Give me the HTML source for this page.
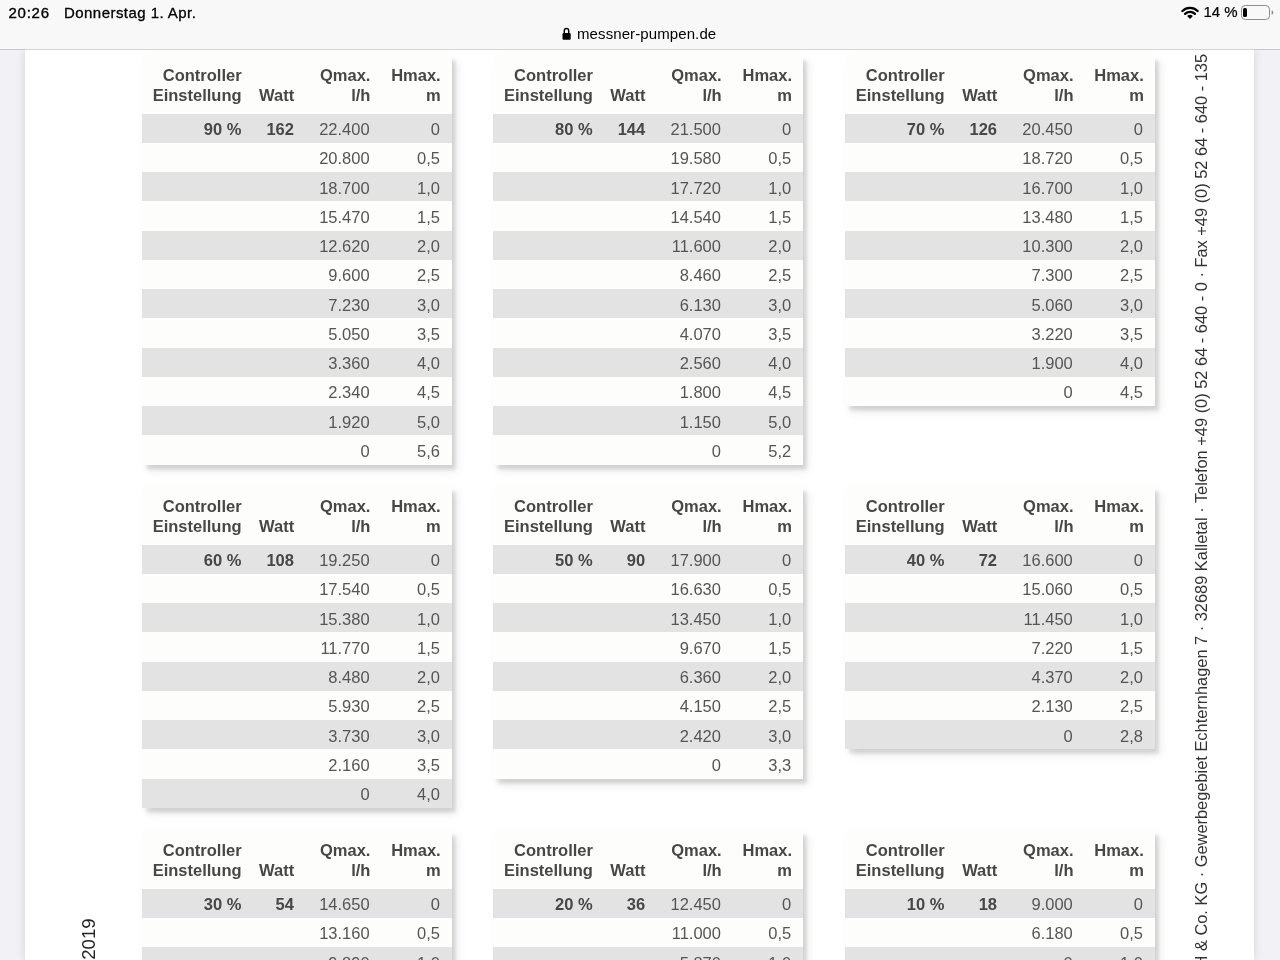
<!DOCTYPE html><html><head><meta charset="utf-8"><title>messner-pumpen.de</title><style>
*{margin:0;padding:0;box-sizing:border-box}
html,body{width:1280px;height:960px;overflow:hidden;background:#f1f1f6;font-family:"Liberation Sans",Arial,sans-serif}
#page{position:absolute;left:25px;top:49px;width:1228.5px;height:911px;background:#fff;box-shadow:0 0 9px rgba(0,0,0,.13)}
#line{position:absolute;left:0;top:49px;width:1280px;height:1px;background:rgba(0,0,0,.17)}
#bar{position:absolute;left:0;top:0;width:1280px;height:49px;background:#f8f8f8}
.card{position:absolute;width:310px;background:#fdfdfc;box-shadow:3.5px 4.5px 3px rgba(0,0,0,.1),4.5px 5.5px 9px rgba(0,0,0,.1)}
.h{position:absolute;top:11.1px;text-align:right;font-weight:bold;font-size:16.5px;line-height:19.75px;color:#474747;white-space:nowrap}
.r{position:absolute;left:0;width:310px;height:29.24px}
.g{background:#e3e3e3}
.r span,.r b{position:absolute;top:1.5px;font-size:16.5px;line-height:29.24px;white-space:nowrap}
.r span{color:#555;margin-right:0.75px}
.r b{color:#474747;margin-right:0.3px}
.rot{position:absolute;white-space:nowrap;transform-origin:0 0;transform:rotate(-90deg)}
</style></head><body><div id="page"></div><div id="line"></div><div id="bar"><div style="position:absolute;left:8.5px;top:3.5px;font-size:15px;line-height:18px;color:#000;letter-spacing:0.75px;-webkit-text-stroke:0.35px #000">20:26</div><div style="position:absolute;left:64px;top:3.5px;font-size:15px;line-height:18px;color:#000;letter-spacing:0.45px;-webkit-text-stroke:0.3px #000">Donnerstag 1. Apr.</div><svg style="position:absolute;left:562px;top:27px" width="9" height="13" viewBox="0 0 9 13"><path d="M2.3 6.5V3.75a2.2 2.2 0 0 1 4.4 0V6.5" fill="none" stroke="#000" stroke-width="1.45"/><rect x="0.5" y="6" width="8.2" height="6.7" rx="1.2" fill="#000"/></svg><div style="position:absolute;left:577px;top:25px;font-size:15px;line-height:18px;color:#000;letter-spacing:0.1px">messner-pumpen.de</div><svg style="position:absolute;left:1181px;top:6px" width="18" height="14" viewBox="0 0 18 14"><path d="M9 13 L6.1 10.1 A4.1 4.1 0 0 1 11.9 10.1 Z" fill="#000"/><path d="M4.1 7.9 A7 7 0 0 1 13.9 7.9" fill="none" stroke="#000" stroke-width="2.3" stroke-linecap="round"/><path d="M1.4 5 A10.8 10.8 0 0 1 16.6 5" fill="none" stroke="#000" stroke-width="2.3" stroke-linecap="round"/></svg><div style="position:absolute;left:1203.5px;top:3px;font-size:15px;line-height:18px;color:#000;-webkit-text-stroke:0.2px #000">14 %</div><div style="position:absolute;left:1241px;top:5.2px;width:29.3px;height:14.4px;border:1.2px solid #8e8e8e;border-radius:4.2px"></div><div style="position:absolute;left:1243.2px;top:8px;width:3.6px;height:9.4px;background:#000;border-radius:1.6px"></div><svg style="position:absolute;left:1271px;top:9px" width="4" height="7" viewBox="0 0 4 7"><path d="M0.6 1.2 A2.4 2.4 0 0 1 0.6 5.8 Z" fill="#8a8a8a"/></svg></div><div class="card" style="left:142px;top:55px;height:409.63px"><div class="h" style="right:210.40px">Controller<br>Einstellung</div><div class="h" style="right:157.80px"><br>Watt</div><div class="h" style="right:81.60px">Qmax.<br>l/h</div><div class="h" style="right:11.30px">Hmax.<br>m</div><div class="r g" style="top:58.75px"><b style="right:210.40px">90 %</b><b style="right:157.80px">162</b><span style="right:81.60px">22.400</span><span style="right:11.30px">0</span></div><div class="r" style="top:87.99px"><span style="right:81.60px">20.800</span><span style="right:11.30px">0,5</span></div><div class="r g" style="top:117.23px"><span style="right:81.60px">18.700</span><span style="right:11.30px">1,0</span></div><div class="r" style="top:146.47px"><span style="right:81.60px">15.470</span><span style="right:11.30px">1,5</span></div><div class="r g" style="top:175.71px"><span style="right:81.60px">12.620</span><span style="right:11.30px">2,0</span></div><div class="r" style="top:204.95px"><span style="right:81.60px">9.600</span><span style="right:11.30px">2,5</span></div><div class="r g" style="top:234.19px"><span style="right:81.60px">7.230</span><span style="right:11.30px">3,0</span></div><div class="r" style="top:263.43px"><span style="right:81.60px">5.050</span><span style="right:11.30px">3,5</span></div><div class="r g" style="top:292.67px"><span style="right:81.60px">3.360</span><span style="right:11.30px">4,0</span></div><div class="r" style="top:321.91px"><span style="right:81.60px">2.340</span><span style="right:11.30px">4,5</span></div><div class="r g" style="top:351.15px"><span style="right:81.60px">1.920</span><span style="right:11.30px">5,0</span></div><div class="r" style="top:380.39px"><span style="right:81.60px">0</span><span style="right:11.30px">5,6</span></div></div><div class="card" style="left:493.3px;top:55px;height:409.63px"><div class="h" style="right:210.40px">Controller<br>Einstellung</div><div class="h" style="right:157.80px"><br>Watt</div><div class="h" style="right:81.60px">Qmax.<br>l/h</div><div class="h" style="right:11.30px">Hmax.<br>m</div><div class="r g" style="top:58.75px"><b style="right:210.40px">80 %</b><b style="right:157.80px">144</b><span style="right:81.60px">21.500</span><span style="right:11.30px">0</span></div><div class="r" style="top:87.99px"><span style="right:81.60px">19.580</span><span style="right:11.30px">0,5</span></div><div class="r g" style="top:117.23px"><span style="right:81.60px">17.720</span><span style="right:11.30px">1,0</span></div><div class="r" style="top:146.47px"><span style="right:81.60px">14.540</span><span style="right:11.30px">1,5</span></div><div class="r g" style="top:175.71px"><span style="right:81.60px">11.600</span><span style="right:11.30px">2,0</span></div><div class="r" style="top:204.95px"><span style="right:81.60px">8.460</span><span style="right:11.30px">2,5</span></div><div class="r g" style="top:234.19px"><span style="right:81.60px">6.130</span><span style="right:11.30px">3,0</span></div><div class="r" style="top:263.43px"><span style="right:81.60px">4.070</span><span style="right:11.30px">3,5</span></div><div class="r g" style="top:292.67px"><span style="right:81.60px">2.560</span><span style="right:11.30px">4,0</span></div><div class="r" style="top:321.91px"><span style="right:81.60px">1.800</span><span style="right:11.30px">4,5</span></div><div class="r g" style="top:351.15px"><span style="right:81.60px">1.150</span><span style="right:11.30px">5,0</span></div><div class="r" style="top:380.39px"><span style="right:81.60px">0</span><span style="right:11.30px">5,2</span></div></div><div class="card" style="left:845.1px;top:55px;height:351.15px"><div class="h" style="right:210.40px">Controller<br>Einstellung</div><div class="h" style="right:157.80px"><br>Watt</div><div class="h" style="right:81.60px">Qmax.<br>l/h</div><div class="h" style="right:11.30px">Hmax.<br>m</div><div class="r g" style="top:58.75px"><b style="right:210.40px">70 %</b><b style="right:157.80px">126</b><span style="right:81.60px">20.450</span><span style="right:11.30px">0</span></div><div class="r" style="top:87.99px"><span style="right:81.60px">18.720</span><span style="right:11.30px">0,5</span></div><div class="r g" style="top:117.23px"><span style="right:81.60px">16.700</span><span style="right:11.30px">1,0</span></div><div class="r" style="top:146.47px"><span style="right:81.60px">13.480</span><span style="right:11.30px">1,5</span></div><div class="r g" style="top:175.71px"><span style="right:81.60px">10.300</span><span style="right:11.30px">2,0</span></div><div class="r" style="top:204.95px"><span style="right:81.60px">7.300</span><span style="right:11.30px">2,5</span></div><div class="r g" style="top:234.19px"><span style="right:81.60px">5.060</span><span style="right:11.30px">3,0</span></div><div class="r" style="top:263.43px"><span style="right:81.60px">3.220</span><span style="right:11.30px">3,5</span></div><div class="r g" style="top:292.67px"><span style="right:81.60px">1.900</span><span style="right:11.30px">4,0</span></div><div class="r" style="top:321.91px"><span style="right:81.60px">0</span><span style="right:11.30px">4,5</span></div></div><div class="card" style="left:142px;top:486px;height:321.91px"><div class="h" style="right:210.40px">Controller<br>Einstellung</div><div class="h" style="right:157.80px"><br>Watt</div><div class="h" style="right:81.60px">Qmax.<br>l/h</div><div class="h" style="right:11.30px">Hmax.<br>m</div><div class="r g" style="top:58.75px"><b style="right:210.40px">60 %</b><b style="right:157.80px">108</b><span style="right:81.60px">19.250</span><span style="right:11.30px">0</span></div><div class="r" style="top:87.99px"><span style="right:81.60px">17.540</span><span style="right:11.30px">0,5</span></div><div class="r g" style="top:117.23px"><span style="right:81.60px">15.380</span><span style="right:11.30px">1,0</span></div><div class="r" style="top:146.47px"><span style="right:81.60px">11.770</span><span style="right:11.30px">1,5</span></div><div class="r g" style="top:175.71px"><span style="right:81.60px">8.480</span><span style="right:11.30px">2,0</span></div><div class="r" style="top:204.95px"><span style="right:81.60px">5.930</span><span style="right:11.30px">2,5</span></div><div class="r g" style="top:234.19px"><span style="right:81.60px">3.730</span><span style="right:11.30px">3,0</span></div><div class="r" style="top:263.43px"><span style="right:81.60px">2.160</span><span style="right:11.30px">3,5</span></div><div class="r g" style="top:292.67px"><span style="right:81.60px">0</span><span style="right:11.30px">4,0</span></div></div><div class="card" style="left:493.3px;top:486px;height:292.67px"><div class="h" style="right:210.40px">Controller<br>Einstellung</div><div class="h" style="right:157.80px"><br>Watt</div><div class="h" style="right:81.60px">Qmax.<br>l/h</div><div class="h" style="right:11.30px">Hmax.<br>m</div><div class="r g" style="top:58.75px"><b style="right:210.40px">50 %</b><b style="right:157.80px">90</b><span style="right:81.60px">17.900</span><span style="right:11.30px">0</span></div><div class="r" style="top:87.99px"><span style="right:81.60px">16.630</span><span style="right:11.30px">0,5</span></div><div class="r g" style="top:117.23px"><span style="right:81.60px">13.450</span><span style="right:11.30px">1,0</span></div><div class="r" style="top:146.47px"><span style="right:81.60px">9.670</span><span style="right:11.30px">1,5</span></div><div class="r g" style="top:175.71px"><span style="right:81.60px">6.360</span><span style="right:11.30px">2,0</span></div><div class="r" style="top:204.95px"><span style="right:81.60px">4.150</span><span style="right:11.30px">2,5</span></div><div class="r g" style="top:234.19px"><span style="right:81.60px">2.420</span><span style="right:11.30px">3,0</span></div><div class="r" style="top:263.43px"><span style="right:81.60px">0</span><span style="right:11.30px">3,3</span></div></div><div class="card" style="left:845.1px;top:486px;height:263.43px"><div class="h" style="right:210.40px">Controller<br>Einstellung</div><div class="h" style="right:157.80px"><br>Watt</div><div class="h" style="right:81.60px">Qmax.<br>l/h</div><div class="h" style="right:11.30px">Hmax.<br>m</div><div class="r g" style="top:58.75px"><b style="right:210.40px">40 %</b><b style="right:157.80px">72</b><span style="right:81.60px">16.600</span><span style="right:11.30px">0</span></div><div class="r" style="top:87.99px"><span style="right:81.60px">15.060</span><span style="right:11.30px">0,5</span></div><div class="r g" style="top:117.23px"><span style="right:81.60px">11.450</span><span style="right:11.30px">1,0</span></div><div class="r" style="top:146.47px"><span style="right:81.60px">7.220</span><span style="right:11.30px">1,5</span></div><div class="r g" style="top:175.71px"><span style="right:81.60px">4.370</span><span style="right:11.30px">2,0</span></div><div class="r" style="top:204.95px"><span style="right:81.60px">2.130</span><span style="right:11.30px">2,5</span></div><div class="r g" style="top:234.19px"><span style="right:81.60px">0</span><span style="right:11.30px">2,8</span></div></div><div class="card" style="left:142px;top:830px;height:175.71px"><div class="h" style="right:210.40px">Controller<br>Einstellung</div><div class="h" style="right:157.80px"><br>Watt</div><div class="h" style="right:81.60px">Qmax.<br>l/h</div><div class="h" style="right:11.30px">Hmax.<br>m</div><div class="r g" style="top:58.75px"><b style="right:210.40px">30 %</b><b style="right:157.80px">54</b><span style="right:81.60px">14.650</span><span style="right:11.30px">0</span></div><div class="r" style="top:87.99px"><span style="right:81.60px">13.160</span><span style="right:11.30px">0,5</span></div><div class="r g" style="top:117.23px"><span style="right:81.60px">9.890</span><span style="right:11.30px">1,0</span></div><div class="r" style="top:146.47px"><span style="right:81.60px">8.300</span><span style="right:11.30px">1,5</span></div></div><div class="card" style="left:493.3px;top:830px;height:175.71px"><div class="h" style="right:210.40px">Controller<br>Einstellung</div><div class="h" style="right:157.80px"><br>Watt</div><div class="h" style="right:81.60px">Qmax.<br>l/h</div><div class="h" style="right:11.30px">Hmax.<br>m</div><div class="r g" style="top:58.75px"><b style="right:210.40px">20 %</b><b style="right:157.80px">36</b><span style="right:81.60px">12.450</span><span style="right:11.30px">0</span></div><div class="r" style="top:87.99px"><span style="right:81.60px">11.000</span><span style="right:11.30px">0,5</span></div><div class="r g" style="top:117.23px"><span style="right:81.60px">5.870</span><span style="right:11.30px">1,0</span></div><div class="r" style="top:146.47px"><span style="right:81.60px">4.100</span><span style="right:11.30px">1,5</span></div></div><div class="card" style="left:845.1px;top:830px;height:175.71px"><div class="h" style="right:210.40px">Controller<br>Einstellung</div><div class="h" style="right:157.80px"><br>Watt</div><div class="h" style="right:81.60px">Qmax.<br>l/h</div><div class="h" style="right:11.30px">Hmax.<br>m</div><div class="r g" style="top:58.75px"><b style="right:210.40px">10 %</b><b style="right:157.80px">18</b><span style="right:81.60px">9.000</span><span style="right:11.30px">0</span></div><div class="r" style="top:87.99px"><span style="right:81.60px">6.180</span><span style="right:11.30px">0,5</span></div><div class="r g" style="top:117.23px"><span style="right:81.60px">0</span><span style="right:11.30px">1,0</span></div><div class="r" style="top:146.47px"><span style="right:81.60px">0</span><span style="right:11.30px">1,5</span></div></div><div class="rot" id="foot" style="left:1191.3px;top:1135.5px;font-size:16.4px;line-height:20px;color:#333">Messner Pumpen GmbH &amp; Co. KG · Gewerbegebiet Echternhagen 7 · 32689 Kalletal · Telefon +49 (0) 52 64 - 640 - 0 · Fax +49 (0) 52 64 - 640 - 135</div><div class="rot" id="yr" style="left:77.8px;top:1060px;font-size:18.6px;line-height:22px;color:#222">Stand: April 2019</div></body></html>
